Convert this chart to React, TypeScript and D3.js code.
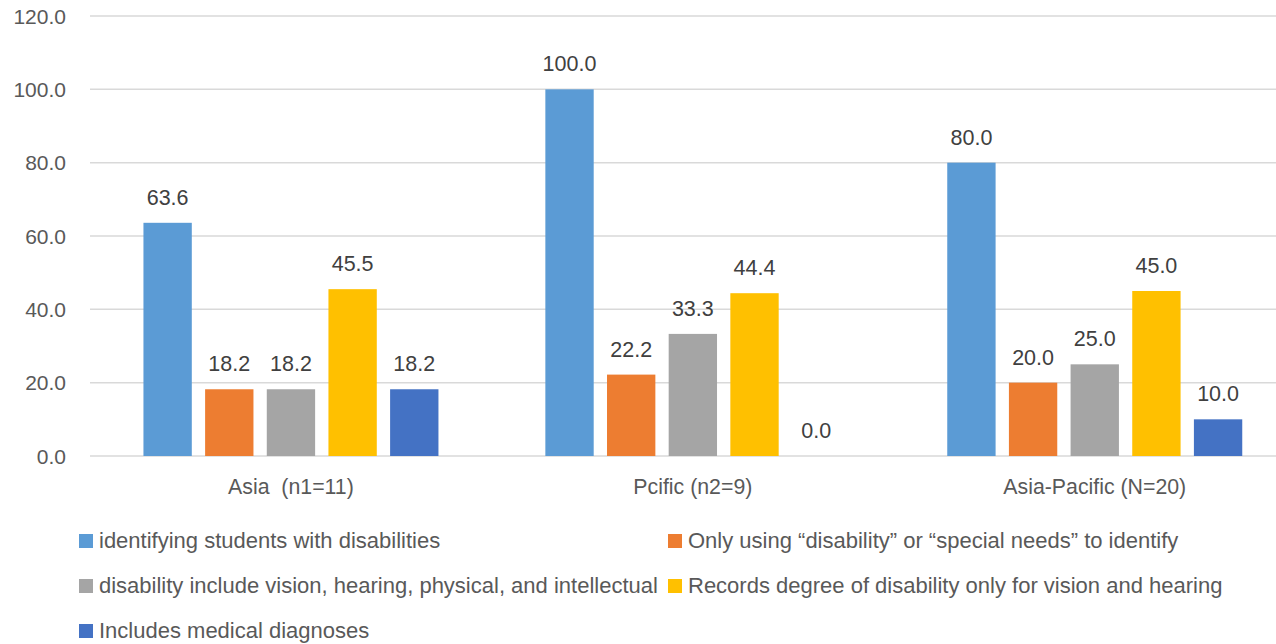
import React, { useEffect } from "react";
import * as d3 from "d3";

const categories = ["Asia  (n1=11)", "Pcific (n2=9)", "Asia-Pacific (N=20)"];
const seriesNames = [
  "identifying students with disabilities",
  "Only using \u201cdisability\u201d or \u201cspecial needs\u201d to identify",
  "disability include vision, hearing, physical, and intellectual",
  "Records degree of disability only for vision and hearing",
  "Includes medical diagnoses",
];
const identifying = [63.6, 100.0, 80.0];
const onlyUsing = [18.2, 22.2, 20.0];
const includeTypes = [18.2, 33.3, 25.0];
const recordsDegree = [45.5, 44.4, 45.0];
const medical = [18.2, 0.0, 10.0];
const seriesValues = [identifying, onlyUsing, includeTypes, recordsDegree, medical];
const colors = ["#5B9BD5", "#ED7D31", "#A5A5A5", "#FFC000", "#4472C4"];
const yTicks = [0, 20, 40, 60, 80, 100, 120];

const W = 1276;
const H = 644;
const FONT = "'Liberation Sans', Arial, sans-serif";

export default function App() {
  useEffect(() => {
    document.body.style.margin = "0";
  }, []);

  const y = d3.scaleLinear().domain([0, 120]).range([456, 16]);
  const x0 = d3.scaleBand<string>().domain(categories).range([90, 1295.7]).padding(0);
  const band = x0.bandwidth();
  const inset = (band - 295) / 2;
  const x1 = d3
    .scaleBand<number>()
    .domain(d3.range(seriesNames.length))
    .range([inset, band - inset])
    .paddingInner(0.216)
    .paddingOuter(0);

  const legendPos = [
    [79, 534],
    [668, 534],
    [79, 579],
    [668, 579],
    [79, 624],
  ];

  return (
    <svg width={W} height={H} style={{ display: "block" }} fontFamily={FONT}>
      <rect width={W} height={H} fill="#ffffff" />
      {yTicks.map((t) => (
        <g key={t}>
          <line x1={90} x2={W} y1={y(t)} y2={y(t)} stroke="#D9D9D9" strokeWidth={1.5} />
          <text x={66} y={y(t) + 7.5} textAnchor="end" fontSize={21} fill="#595959">
            {d3.format(".1f")(t)}
          </text>
        </g>
      ))}
      {categories.map((c, ci) => (
        <g key={c} transform={`translate(${x0(c)},0)`}>
          {seriesValues.map((vals, si) => {
            const v = vals[ci];
            const bx = x1(si)!;
            return (
              <g key={si}>
                {v > 0 && (
                  <rect x={bx} y={y(v)} width={x1.bandwidth()} height={y(0) - y(v)} fill={colors[si]} />
                )}
                <text
                  x={bx + x1.bandwidth() / 2}
                  y={y(v) - 18}
                  textAnchor="middle"
                  fontSize={21.5}
                  fill="#404040"
                >
                  {d3.format(".1f")(v)}
                </text>
              </g>
            );
          })}
          <text
            x={band / 2}
            y={494}
            textAnchor="middle"
            fontSize={21.3}
            fill="#595959"
            style={{ whiteSpace: "pre" }}
          >
            {c}
          </text>
        </g>
      ))}
      {seriesNames.map((name, i) => (
        <g key={name} transform={`translate(${legendPos[i][0]},${legendPos[i][1]})`}>
          <rect x={0} y={0} width={14} height={14} fill={colors[i]} />
          <text x={20} y={13.5} fontSize={22} fill="#595959">
            {name}
          </text>
        </g>
      ))}
    </svg>
  );
}
